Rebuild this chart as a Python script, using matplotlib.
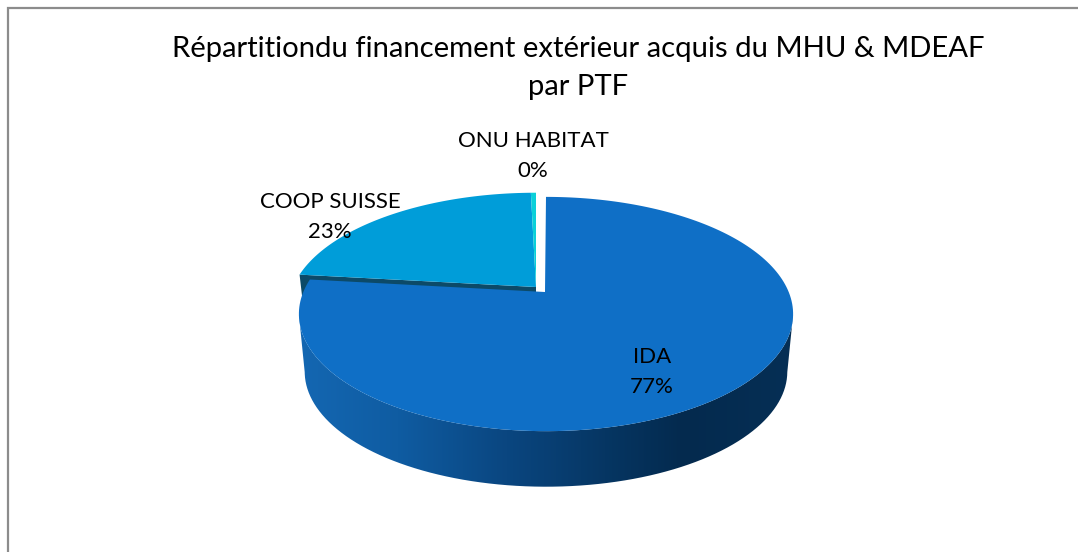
import numpy as np
import matplotlib
matplotlib.use('Agg')
import matplotlib.pyplot as plt
from matplotlib.patches import Polygon, PathPatch
from matplotlib.path import Path
from matplotlib.colors import LinearSegmentedColormap

plt.rcParams['font.family'] = ['Lato', 'DejaVu Sans']

# shares (the labels round them to 77 / 23 / 0)
categories = ['IDA', 'COOP SUISSE', 'ONU HABITAT']
shares = [76.8, 22.8, 0.4]
share_labels = ['77%', '23%', '0%']
colors = ['#0F6FC6', '#009DD9', '#0BD0D9']
title = 'Répartitiondu financement extérieur acquis du MHU & MDEAF\npar PTF'

W, H = 1078, 552
fig = plt.figure(figsize=(W / 100, H / 100), dpi=100)
ax = fig.add_axes([0, 0, 1, 1])
ax.set_xlim(0, W)
ax.set_ylim(H, 0)
ax.axis('off')

# chart frame, cut off at the right and bottom of the picture
ax.plot([8, 8, W], [H, 8, 8], color='#8c8c8c', lw=1.6, solid_joinstyle='miter')


def rim(a0, a1, cx, cy, rx, ry, c=0.188, n=200):
    # perspective circle, angles clockwise from 12 o'clock, centre at cx, cy
    t = np.radians(np.linspace(a0, a1, n))
    d = 1 + c * np.cos(t)
    return np.column_stack([cx + rx * np.sin(t) / d, cy - ry * np.cos(t) / d])


def wedge(a0, a1, tip_x, tip_y, cx, rx, ry):
    return np.vstack([[tip_x, tip_y], rim(a0, a1, cx, tip_y, rx, ry)])


angles = np.cumsum([0] + shares) / sum(shares) * 360

# side wall of the big slice, gradient clipped to the outline
top = rim(0, 360, 546, 292, 242.7, 113, n=400)
low = rim(0, 360, 546, 350, 237, 111, n=400)
wall_top = top[top[:, 1] >= 313]
wall_low = low[low[:, 1] >= 372]
wall = np.vstack([wall_top[np.argsort(wall_top[:, 0])], wall_low[np.argsort(-wall_low[:, 0])]])
wall_cmap = LinearSegmentedColormap.from_list('wall', [
    (0.0, '#1467B2'), (0.2, '#0F5CA2'), (0.42, '#0A4680'),
    (0.62, '#063663'), (0.78, '#042A4E'), (1.0, '#062F55')])
im = ax.imshow(np.linspace(0, 1, 256)[None, :], extent=[299, 793, 490, 300], cmap=wall_cmap, aspect='auto', zorder=1)
im.set_clip_path(PathPatch(Path(wall, closed=False), transform=ax.transData))
ax.set_xlim(0, W)
ax.set_ylim(H, 0)

# detached slices sit up and left of the big one
coop = wedge(angles[1], angles[2], 536, 287, 536, 243, 112)
cut = np.vstack([coop[0], coop[1], coop[1] + [3, 26], coop[0] + [0, 26]])
ax.add_patch(Polygon(cut, closed=True, fc='#0C4A68', ec='none', zorder=2))
ax.add_patch(Polygon(coop, closed=True, fc=colors[1], ec='none', zorder=3))
ax.add_patch(Polygon(wedge(angles[2], angles[3], 536, 287, 536, 243, 112), closed=True, fc=colors[2], ec='none', zorder=3))
ax.add_patch(Polygon(wedge(angles[0], angles[1], 545, 292, 546, 242.7, 113), closed=True, fc=colors[0], ec='none', zorder=4))

ax.text(578, 68, title, ha='center', va='center', fontsize=21.1, color='#000000', linespacing=1.6, zorder=6)
label_pos = [(652, 372), (330, 217), (533, 156)]
for name, pct, (x, y) in zip(categories, share_labels, label_pos):
    ax.text(x, y, name + '\n' + pct, ha='center', va='center', fontsize=16, color='#000000', linespacing=1.68, zorder=6)

fig.savefig('out.png', dpi=100)
